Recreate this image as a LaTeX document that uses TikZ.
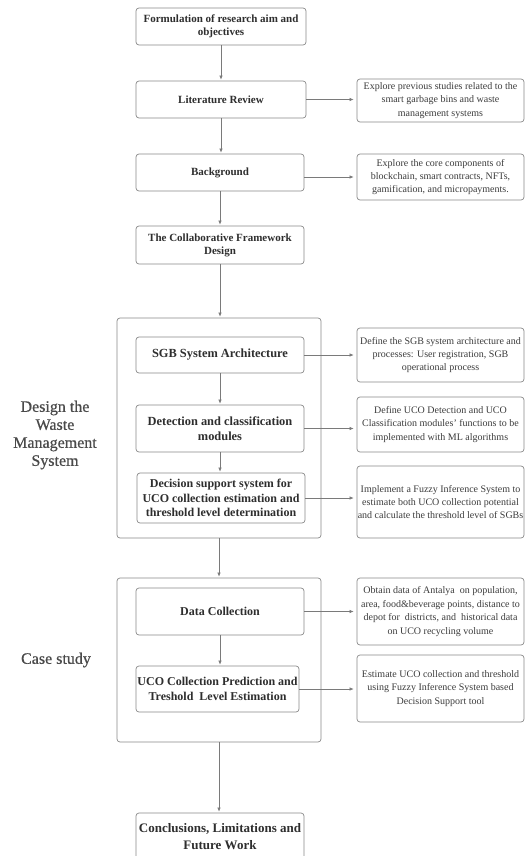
\documentclass[tikz,border=0pt]{standalone}
\usepackage{fontspec}
\setmainfont{Liberation Serif}
\newfontfamily\labfont{Liberation Serif}[FakeBold=0.6]
\usetikzlibrary{arrows.meta}
\definecolor{edge}{HTML}{8A8A8A}
\definecolor{wire}{HTML}{7A7A7A}
\definecolor{ink}{HTML}{2E2E2E}
\definecolor{soft}{HTML}{3C3C3C}
\definecolor{lab}{HTML}{4A4A4A}
\tikzset{
  base/.style={draw=edge, line width=0.7pt, rounded corners=3pt, inner sep=0pt, align=center, text=ink},
  mainbox/.style={base, font=\fontsize{11}{13}\selectfont\bfseries},
  innerbox/.style={base, font=\fontsize{12.4}{15}\selectfont\bfseries},
  midbox/.style={base, font=\fontsize{12}{14.5}\selectfont\bfseries},
  endbox/.style={base, font=\fontsize{13}{16.7}\selectfont\bfseries},
  notebox/.style={base, text=soft, minimum width=167pt, font=\fontsize{10}{13.4}\selectfont},
  groupbox/.style={draw=edge, line width=0.7pt, rounded corners=3pt, inner sep=0pt},
  sidelabel/.style={align=center, text=lab, font=\labfont\fontsize{16}{18}\selectfont},
  flow/.style={draw=wire, line width=0.6pt, -{Latex[length=4pt,width=3.4pt]}, shorten >=1pt},
  sideflow/.style={draw=wire, line width=0.6pt, -{Latex[length=4pt,width=3.4pt]}, shorten >=3pt}
}
\begin{document}
\begin{tikzpicture}[x=1pt,y=-1pt]
\path[use as bounding box, clip] (0,0) rectangle (525,856);
\fill[white] (0,0) rectangle (525,856);

% groups
\node[groupbox, minimum width=204pt, minimum height=220pt] (g1) at (219,428) {};
\node[groupbox, minimum width=204pt, minimum height=164pt] (g2) at (219,660) {};

% main column
\node[mainbox, minimum width=170pt, minimum height=37pt] (b1) at (221,26.5) {Formulation of research aim and\\objectives};
\node[mainbox, minimum width=170pt, minimum height=37pt] (b2) at (221,99.5) {Literature Review};
\node[mainbox, minimum width=168pt, minimum height=37pt] (b3) at (220,172.5) {Background};
\node[mainbox, minimum width=168pt, minimum height=38pt] (b4) at (220,245) {The Collaborative Framework\\Design};

\node[innerbox, minimum width=168pt, minimum height=36pt] (s1) at (220,355) {SGB System Architecture};
\node[innerbox, minimum width=168pt, minimum height=47pt] (s2) at (220,428.5) {Detection and classification\\modules};
\node[midbox, minimum width=168pt, minimum height=50pt] (s3) at (221,498) {Decision support system for\\UCO collection estimation and\\threshold level determination};

\node[midbox, minimum width=168pt, minimum height=47pt] (c1) at (220,611.5) {Data Collection};
\node[midbox, minimum width=163pt, minimum height=46pt] (c2) at (217.5,689) {UCO Collection Prediction and\\Treshold\ \ Level Estimation};

\node[endbox, minimum width=168pt, minimum height=47pt] (e1) at (220,836.5) {Conclusions, Limitations and\\Future Work};

% side labels
\node[sidelabel] (l1) at (55,435) {Design the\\Waste\\Management\\System};
\node[sidelabel] (l2) at (56,660) {Case study};

% note boxes
\node[notebox, minimum height=43pt] (r1) at (440.5,100.5) {Explore previous studies related to the\\smart garbage bins and waste\\management systems};
\node[notebox, minimum height=46pt] (r2) at (440.5,177) {Explore the core components of\\blockchain, smart contracts, NFTs,\\gamification, and micropayments.};
\node[notebox, minimum height=54pt] (r3) at (440.5,355) {Define the SGB system architecture and\\processes: User registration, SGB\\operational process};
\node[notebox, minimum height=55pt] (r4) at (440.5,424.5) {Define UCO Detection and UCO\\Classification modules' functions to be\\implemented with ML algorithms};
\node[notebox, minimum height=72pt] (r5) at (440.5,502) {Implement a Fuzzy Inference System to\\estimate both UCO collection potential\\and calculate the threshold level of SGBs};
\node[notebox, minimum height=67pt] (r6) at (440.5,611.5) {Obtain data of Antalya\ \ on population,\\area, food\&beverage points, distance to\\depot for\ \ districts, and\ \ historical data\\on UCO recycling volume};
\node[notebox, minimum height=67pt] (r7) at (440.5,688.5) {Estimate UCO collection and threshold\\using Fuzzy Inference System based\\Decision Support tool};

% vertical flow
\draw[flow] (b1.south) -- (b1.south |- b2.north);
\draw[flow] (b2.south) -- (b2.south |- b3.north);
\draw[flow] (b3.south) -- (b3.south |- b4.north);
\draw[flow] (b4.south) -- (b4.south |- g1.north);
\draw[flow] (s1.south) -- (s1.south |- s2.north);
\draw[flow] (s2.south) -- (s2.south |- s3.north);
\draw[flow] (g1.south) -- (g1.south |- g2.north);
\draw[flow] (c1.south) -- (c1.south |- c2.north);
\draw[flow] (g2.south) -- (g2.south |- e1.north);

% side flow
\draw[sideflow] (b2.east) -- (b2.east -| r1.west);
\draw[sideflow] (r2.west -| b3.east) -- (r2.west);
\draw[sideflow] (s1.east) -- (s1.east -| r3.west);
\draw[sideflow] (s2.east) -- (s2.east -| r4.west);
\draw[sideflow] (s3.east) -- (s3.east -| r5.west);
\draw[sideflow] (c1.east) -- (c1.east -| r6.west);
\draw[sideflow] (c2.east) -- (c2.east -| r7.west);
\end{tikzpicture}
\end{document}
